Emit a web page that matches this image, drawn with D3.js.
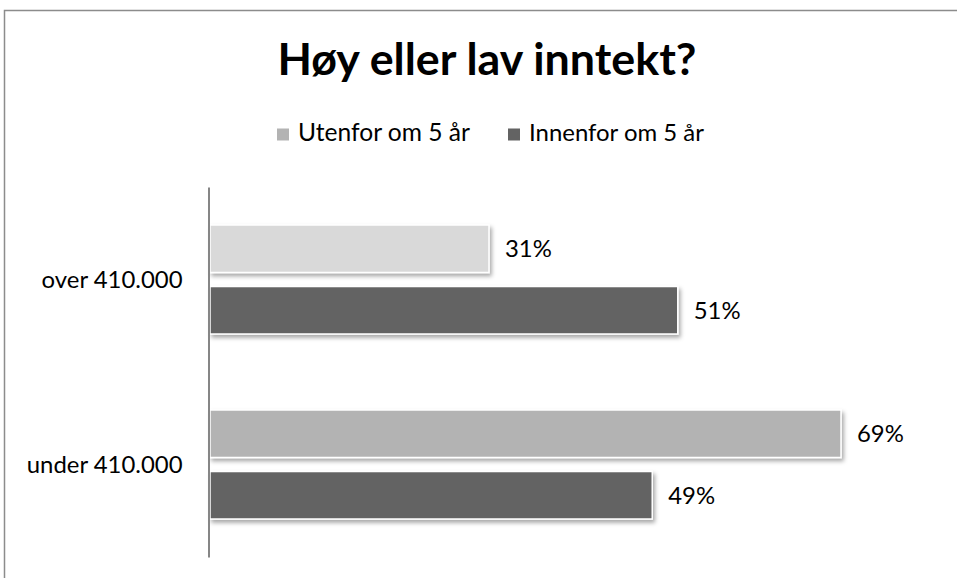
<!DOCTYPE html>
<html>
<head>
<meta charset="utf-8">
<script src="https://cdn.jsdelivr.net/npm/d3@7"></script>
<style>
  html, body { margin: 0; padding: 0; background: #fff; }
  svg { display: block; }
  text { font-family: Lato, "Open Sans", sans-serif; fill: #000; }
</style>
</head>
<body>
<svg id="chart" width="957" height="578"></svg>
<script>
// ---- data ----
const title = "Høy eller lav inntekt?";
const categories = ["over 410.000", "under 410.000"];
const seriesNames = ["Utenfor om 5 år", "Innenfor om 5 år"];
const utenfor = [0.307, 0.693];
const innenfor = [0.514, 0.486];

// ---- styles ----
const utenforColors = ["#d9d9d9", "#b3b3b3"];
const legendColors = ["#b3b3b3", "#636363"];
const innenforColor = "#636363";

const svg = d3.select("#chart");
const W = 957, H = 578;

// drop shadow
const defs = svg.append("defs");
const f = defs.append("filter").attr("id", "shadow")
  .attr("x", "-10%").attr("y", "-30%").attr("width", "130%").attr("height", "180%");
f.append("feDropShadow").attr("dx", 2).attr("dy", 3).attr("stdDeviation", 2)
  .attr("flood-color", "#000").attr("flood-opacity", 0.35);

// outer border (partial, as in reference)
svg.append("path")
  .attr("d", `M4.5,${H} L4.5,10.5 L${W},10.5`)
  .attr("fill", "none").attr("stroke", "#8c8c8c").attr("stroke-width", 1.5);

function fitText(sel, targetW) {
  sel.each(function() {
    const el = this;
    const fs = parseFloat(el.getAttribute("font-size"));
    const len = el.getComputedTextLength();
    if (len > 0) el.setAttribute("font-size", (fs * targetW / len).toFixed(2));
  });
}

// title
svg.append("text")
  .attr("x", 487).attr("y", 75)
  .attr("text-anchor", "middle")
  .attr("font-size", 32).attr("font-weight", "bold")
  .text(title)
  .call(fitText, 419);

// legend
const legendX = [277, 508];
const legendTextW = [172, 175];
const lg = svg.append("g");
seriesNames.forEach((name, i) => {
  lg.append("rect").attr("x", legendX[i]).attr("y", 128.5).attr("width", 12).attr("height", 12)
    .attr("fill", legendColors[i]);
  lg.append("text").attr("x", legendX[i] + 21).attr("y", 140.5)
    .attr("font-size", 18).text(name).call(fitText, legendTextW[i]);
});

// measure label font size from reference category label width
const probe = svg.append("text").attr("font-size", 18).text(categories[0]);
probe.call(fitText, 141);
const labelFS = +probe.attr("font-size");
probe.remove();

// scales
const x = d3.scaleLinear().domain([0, 0.8]).range([209, 209 + 0.8 * 912]);
const y = d3.scaleBand().domain(categories).range([187, 557]);
const inner = d3.scaleBand().domain(seriesNames).range([38, 147]).paddingInner(0.228);

const rows = [];
categories.forEach((c, ci) => {
  rows.push({ cat: c, series: seriesNames[0], value: utenfor[ci], color: utenforColors[ci] });
  rows.push({ cat: c, series: seriesNames[1], value: innenfor[ci], color: innenforColor });
});

const fmt = d3.format(".0%");

svg.append("g").selectAll("rect").data(rows).join("rect")
  .attr("x", x(0) + 1)
  .attr("y", d => y(d.cat) + inner(d.series))
  .attr("width", d => x(d.value) - x(0) - 1)
  .attr("height", inner.bandwidth())
  .attr("fill", d => d.color)
  .attr("stroke", "#fff").attr("stroke-width", 1.5)
  .attr("filter", "url(#shadow)");

svg.append("g").selectAll("text").data(rows).join("text")
  .attr("x", d => x(d.value) + 16)
  .attr("y", d => y(d.cat) + inner(d.series) + inner.bandwidth() / 2)
  .attr("dy", "0.35em")
  .attr("font-size", labelFS)
  .text(d => fmt(d.value));

// category axis
const yAxis = svg.append("g").attr("transform", `translate(${x(0) - 0.5},0)`)
  .call(d3.axisLeft(y).tickSize(0).tickPadding(26));
yAxis.select(".domain").attr("stroke", "#868686").attr("stroke-width", 2);
yAxis.selectAll(".tick text")
  .attr("font-size", labelFS).attr("fill", "#000")
  .style("font-family", "Lato, 'Open Sans', sans-serif")
  .attr("dy", "0.35em");
</script>
</body>
</html>
